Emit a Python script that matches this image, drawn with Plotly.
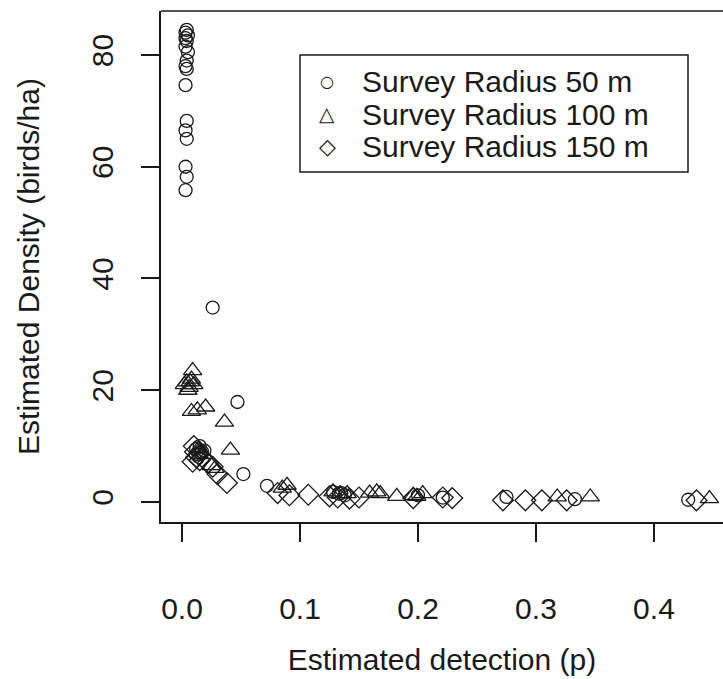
import plotly.graph_objects as go

# Survey Radius 50 m (circles)
x50 = [0.004, 0.003, 0.005, 0.003, 0.004, 0.003, 0.005, 0.004, 0.003, 0.004, 0.003,
       0.004, 0.003, 0.004, 0.003, 0.004, 0.003,
       0.026, 0.047, 0.052, 0.072,
       0.012, 0.015, 0.017, 0.014, 0.019, 0.016,
       0.128, 0.133, 0.138, 0.135, 0.200, 0.221, 0.275, 0.333, 0.429]
y50 = [84.5, 84.0, 83.5, 83.0, 82.5, 81.5, 80.5, 79.0, 78.0, 77.5, 74.6,
       68.2, 66.5, 65.0, 60.0, 58.2, 55.8,
       34.8, 17.9, 5.0, 2.9,
       9.5, 10.0, 9.0, 8.5, 9.2, 8.8,
       1.8, 1.5, 1.2, 1.6, 1.2, 0.8, 0.9, 0.5, 0.4]

# Survey Radius 100 m (triangles)
x100 = [0.002, 0.004, 0.006, 0.008, 0.010, 0.005, 0.009, 0.007, 0.008, 0.013, 0.020,
        0.036, 0.041, 0.014, 0.018, 0.025, 0.028, 0.089, 0.085, 0.128, 0.134, 0.140,
        0.159, 0.165, 0.168, 0.182, 0.196, 0.199, 0.204, 0.318, 0.346, 0.447]
y100 = [21.0, 21.5, 20.5, 22.0, 21.0, 20.0, 23.5, 21.5, 16.2, 16.5, 17.0,
        14.3, 9.3, 9.5, 8.5, 6.5, 6.0, 3.0, 2.5, 1.8, 1.5, 1.5,
        1.6, 1.8, 1.5, 1.0, 1.2, 1.0, 1.5, 0.9, 0.9, 0.6]

# Survey Radius 150 m (diamonds)
x150 = [0.009, 0.012, 0.015, 0.011, 0.014, 0.010, 0.026, 0.022, 0.038, 0.030, 0.081,
        0.091, 0.107, 0.125, 0.132, 0.142, 0.150, 0.196, 0.221, 0.229, 0.272, 0.291,
        0.305, 0.326, 0.436]
y150 = [7.2, 8.0, 7.5, 9.0, 8.5, 10.0, 6.3, 7.0, 3.4, 5.0, 1.6,
        1.2, 1.3, 1.0, 0.8, 0.6, 0.8, 0.7, 0.8, 0.7, 0.3, 0.3,
        0.3, 0.3, 0.3]

series_names = ["Survey Radius 50 m", "Survey Radius 100 m", "Survey Radius 150 m"]
x_ticks = [0.0, 0.1, 0.2, 0.3, 0.4]
x_ticklabels = ["0.0", "0.1", "0.2", "0.3", "0.4"]
y_ticks = [0, 20, 40, 60, 80]
y_ticklabels = ["0", "20", "40", "60", "80"]

FONT = "Liberation Sans, Arial, sans-serif"
INK = "#1a1a1a"

fig = go.Figure()
fig.add_trace(go.Scatter(x=x50, y=y50, mode="markers", name=series_names[0], showlegend=False,
                         marker=dict(symbol="circle-open", size=13, color=INK, line=dict(width=1.3))))
fig.add_trace(go.Scatter(x=x100, y=y100, mode="markers", name=series_names[1], showlegend=False,
                         marker=dict(symbol="triangle-up-open", size=16, color=INK, line=dict(width=1.3))))
fig.add_trace(go.Scatter(x=x150, y=y150, mode="markers", name=series_names[2], showlegend=False,
                         marker=dict(symbol="diamond-open", size=16, color=INK, line=dict(width=1.3))))

W, H = 723, 679
L, R, T, B = 161, 0, 11, 157
pw, ph = W - L - R, H - T - B

def px_to_paper(px, py):
    return (px - L) / pw, 1 - (py - T) / ph

# Legend (manual, R style)
x0, y0 = px_to_paper(300, 55)
x1, y1 = px_to_paper(688, 172)
shapes = [
    dict(type="rect", xref="paper", yref="paper", x0=x0, y0=y1, x1=x1, y1=y0,
         line=dict(color=INK, width=1.5), fillcolor="white", layer="above"),
    dict(type="line", xref="paper", yref="paper", x0=0, x1=1, y0=1, y1=1,
         line=dict(color=INK, width=1.5)),
]
annotations = []
symbols = ["○", "△", "◇"]
sym_sizes = [16, 20, 22]
rows_y = [81, 114, 146]
for name, sym, ss, ry in zip(series_names, symbols, sym_sizes, rows_y):
    sx, sy = px_to_paper(327, ry)
    tx, _ = px_to_paper(360, ry)
    annotations.append(dict(xref="paper", yref="paper", x=sx, y=sy, text=sym, showarrow=False,
                            xanchor="center", yanchor="middle",
                            font=dict(family="DejaVu Sans", size=ss, color=INK)))
    annotations.append(dict(xref="paper", yref="paper", x=tx, y=sy, text=name, showarrow=False,
                            xanchor="left", yanchor="middle",
                            font=dict(family=FONT, size=30, color=INK)))

fig.update_layout(
    width=W, height=H,
    margin=dict(l=L, r=R, t=T, b=B, pad=0),
    paper_bgcolor="white", plot_bgcolor="white",
    font=dict(family=FONT, size=30, color=INK),
    shapes=shapes, annotations=annotations,
    xaxis=dict(range=[-0.0178, 0.4585], tickvals=x_ticks, ticktext=x_ticklabels,
               showgrid=False, zeroline=False, showline=True, linecolor=INK, linewidth=1.5,
               ticks="outside", ticklen=18, tickwidth=1.5, tickcolor=INK,
               ticklabelstandoff=41,
               title=dict(text="Estimated detection (p)", standoff=25,
                          font=dict(family=FONT, size=30, color=INK))),
    yaxis=dict(range=[-3.58, 87.87], tickvals=y_ticks, ticktext=y_ticklabels,
               showgrid=False, zeroline=False, showline=True, linecolor=INK, linewidth=1.5,
               ticks="outside", ticklen=18, tickwidth=1.5, tickcolor=INK,
               tickangle=-90, ticklabelstandoff=16,
               title=dict(text="Estimated Density (birds/ha)", standoff=38,
                          font=dict(family=FONT, size=30, color=INK))),
)

fig.write_html("out.html")
